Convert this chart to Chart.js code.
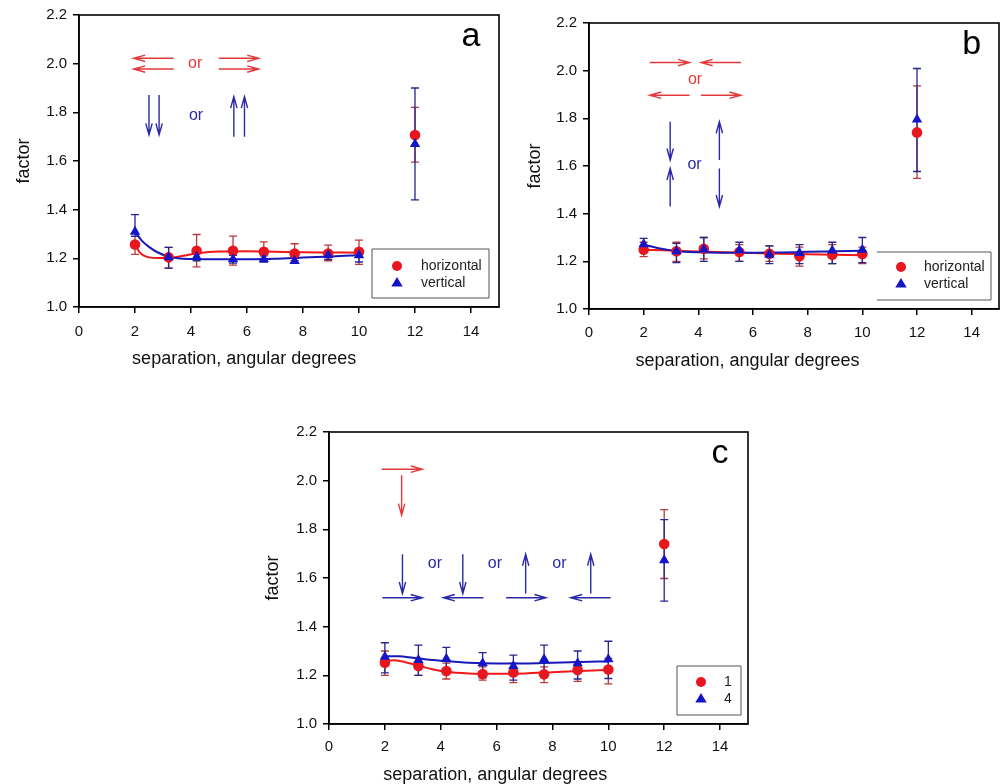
<!DOCTYPE html>
<html><head><meta charset="utf-8">
<script src="https://cdn.jsdelivr.net/npm/chart.js@4"></script>
<style>
body{margin:0;background:#fff;width:1005px;height:784px;position:relative;overflow:hidden}
canvas{position:absolute}
</style></head><body>
<canvas id="ca" width="505" height="380" style="left:0;top:0"></canvas>
<canvas id="cb" width="500" height="380" style="left:505px;top:0"></canvas>
<canvas id="cc" width="510" height="384" style="left:250px;top:410px"></canvas>
<script>
// ---------- shared axes ----------
const xSep = [2, 3.2, 4.2, 5.5, 6.6, 7.7, 8.9, 10, 12];
const xTicks = [0, 2, 4, 6, 8, 10, 12, 14];
const yTicks = [1.0, 1.2, 1.4, 1.6, 1.8, 2.0, 2.2];
const xTitle = 'separation, angular degrees';
const yTitle = 'factor';

// ---------- panel a ----------
const aNames = ['horizontal', 'vertical'];
const aHorVal = [1.257, 1.204, 1.231, 1.231, 1.227, 1.220, 1.220, 1.227, 1.707];
const aHorLo  = [1.216, 1.160, 1.165, 1.172, 1.190, 1.190, 1.190, 1.175, 1.595];
const aHorHi  = [1.290, 1.245, 1.298, 1.291, 1.268, 1.260, 1.254, 1.275, 1.820];
const aVerVal = [1.309, 1.204, 1.207, 1.196, 1.196, 1.189, 1.213, 1.213, 1.670];
const aVerLo  = [1.290, 1.160, 1.190, 1.180, 1.185, 1.180, 1.195, 1.185, 1.440];
const aVerHi  = [1.380, 1.245, 1.222, 1.212, 1.210, 1.200, 1.228, 1.232, 1.900];
const aHorCurveX = [2, 2.15, 2.3, 2.5, 2.8, 3.3, 3.8, 4.3, 5, 6, 7, 8, 9, 10];
const aHorCurveY = [1.257, 1.228, 1.212, 1.204, 1.201, 1.202, 1.212, 1.222, 1.228, 1.229, 1.227, 1.225, 1.224, 1.223];
const aVerCurveX = [2, 2.25, 2.5, 2.8, 3.2, 3.6, 4, 5, 6, 7, 8, 9, 10];
const aVerCurveY = [1.309, 1.272, 1.247, 1.225, 1.207, 1.199, 1.197, 1.196, 1.196, 1.198, 1.203, 1.208, 1.213];
const aRedArrows = [[3.38, 2.022, 1.95, 2.022], [3.38, 1.978, 1.95, 1.978], [4.99, 2.022, 6.42, 2.022], [4.99, 1.978, 6.42, 1.978]];
const aBlueArrows = [[2.50, 1.871, 2.50, 1.707], [2.86, 1.871, 2.86, 1.707], [5.53, 1.700, 5.53, 1.865], [5.91, 1.700, 5.91, 1.865]];
const aRedTexts = [[4.15, 2.0, 'or']];
const aBlueTexts = [[4.18, 1.785, 'or']];

// ---------- panel b ----------
const bNames = ['horizontal', 'vertical'];
const bHorVal = [1.249, 1.242, 1.253, 1.239, 1.232, 1.221, 1.228, 1.231, 1.741];
const bHorLo  = [1.220, 1.200, 1.210, 1.200, 1.200, 1.180, 1.190, 1.190, 1.548];
const bHorHi  = [1.280, 1.280, 1.300, 1.270, 1.265, 1.260, 1.270, 1.260, 1.936];
const bVerVal = [1.272, 1.242, 1.250, 1.246, 1.228, 1.235, 1.245, 1.249, 1.795];
const bVerLo  = [1.245, 1.195, 1.200, 1.200, 1.190, 1.190, 1.190, 1.195, 1.577];
const bVerHi  = [1.296, 1.275, 1.300, 1.280, 1.265, 1.270, 1.280, 1.300, 2.009];
const bHorCurveX = [2, 3, 4, 5, 6, 7, 8, 9, 10];
const bHorCurveY = [1.249, 1.245, 1.241, 1.238, 1.235, 1.232, 1.230, 1.228, 1.226];
const bVerCurveX = [2, 2.5, 3, 3.5, 4, 5, 6, 7, 8, 9, 10];
const bVerCurveY = [1.270, 1.256, 1.246, 1.240, 1.238, 1.236, 1.236, 1.237, 1.240, 1.242, 1.244];
const bRedArrows = [[2.22, 2.034, 3.68, 2.034], [5.56, 2.034, 4.10, 2.034], [3.68, 1.897, 2.22, 1.897], [4.10, 1.897, 5.56, 1.897]];
const bBlueArrows = [[2.97, 1.786, 2.97, 1.625], [2.97, 1.430, 2.97, 1.590], [4.77, 1.625, 4.77, 1.786], [4.77, 1.590, 4.77, 1.430]];
const bRedTexts = [[3.88, 1.964, 'or']];
const bBlueTexts = [[3.86, 1.607, 'or']];

// ---------- panel c ----------
const cNames = ['1', '4'];
const cHorVal = [1.252, 1.238, 1.218, 1.205, 1.212, 1.204, 1.222, 1.224, 1.740];
const cHorLo  = [1.200, 1.200, 1.185, 1.180, 1.170, 1.170, 1.175, 1.165, 1.598];
const cHorHi  = [1.300, 1.270, 1.250, 1.235, 1.250, 1.235, 1.255, 1.270, 1.881];
const cVerVal = [1.276, 1.263, 1.268, 1.250, 1.238, 1.266, 1.250, 1.266, 1.673];
const cVerLo  = [1.210, 1.200, 1.220, 1.190, 1.180, 1.210, 1.185, 1.187, 1.505];
const cVerHi  = [1.334, 1.324, 1.315, 1.293, 1.283, 1.324, 1.300, 1.340, 1.840];
const cHorCurveX = [2, 2.3, 2.7, 3.2, 3.7, 4.2, 5, 6, 7, 8, 9, 10];
const cHorCurveY = [1.258, 1.262, 1.255, 1.240, 1.225, 1.215, 1.208, 1.206, 1.208, 1.213, 1.218, 1.222];
const cVerCurveX = [2, 2.5, 3, 3.5, 4, 5, 6, 7, 8, 9, 10];
const cVerCurveY = [1.278, 1.278, 1.272, 1.265, 1.260, 1.252, 1.249, 1.249, 1.252, 1.255, 1.257];
const cRedArrows = [[1.885, 2.047, 3.34, 2.047], [2.60, 2.022, 2.60, 1.858]];
const cBlueArrows = [
  [1.91, 1.519, 3.34, 1.519], [2.63, 1.698, 2.63, 1.536],
  [5.53, 1.519, 4.09, 1.519], [4.79, 1.698, 4.79, 1.536],
  [6.34, 1.519, 7.77, 1.519], [7.04, 1.536, 7.04, 1.698],
  [10.08, 1.519, 8.65, 1.519], [9.37, 1.536, 9.37, 1.698]];
const cRedTexts = [];
const cBlueTexts = [[3.79, 1.66, 'or'], [5.94, 1.66, 'or'], [8.25, 1.66, 'or']];

// ---------- styles ----------
const FONT = "'Liberation Sans', Arial, sans-serif";
const RED = '#e8161e', BLUE = '#1414c8';
const RED_LINE = '#f01818', BLUE_LINE = '#1818b8';
const ERR_RED = '#b83a3a', ERR_BLUE = '#262690';
const ARR_RED = '#e23a3a', ARR_BLUE = '#2a2aa8';

const extraMap = {};

function arrow(ctx, x1, y1, x2, y2, hl) {
  const ang = Math.atan2(y2 - y1, x2 - x1), a = 0.27;
  ctx.beginPath();
  ctx.moveTo(x1, y1); ctx.lineTo(x2, y2);
  ctx.moveTo(x2 - hl * Math.cos(ang - a), y2 - hl * Math.sin(ang - a));
  ctx.lineTo(x2, y2);
  ctx.lineTo(x2 - hl * Math.cos(ang + a), y2 - hl * Math.sin(ang + a));
  ctx.stroke();
}

function drawTri(ctx, x, y, r) {
  ctx.beginPath();
  ctx.moveTo(x, y - r);
  ctx.lineTo(x - r * 0.95, y + r * 0.6);
  ctx.lineTo(x + r * 0.95, y + r * 0.6);
  ctx.closePath(); ctx.fill();
}

const extras = {
  id: 'extras',
  beforeDatasetsDraw(chart) {
    const cfg = extraMap[chart.canvas.id];
    const { ctx } = chart, x = chart.scales.x, y = chart.scales.y;
    ctx.save();
    [[cfg.redLo, cfg.redHi, ERR_RED], [cfg.blueLo, cfg.blueHi, ERR_BLUE]].forEach(([lo, hi, col]) => {
      ctx.strokeStyle = col; ctx.lineWidth = 1.3;
      xSep.forEach((xv, i) => {
        const px = x.getPixelForValue(xv), p1 = y.getPixelForValue(lo[i]), p2 = y.getPixelForValue(hi[i]);
        ctx.beginPath();
        ctx.moveTo(px, p1); ctx.lineTo(px, p2);
        ctx.moveTo(px - 4, p1); ctx.lineTo(px + 4, p1);
        ctx.moveTo(px - 4, p2); ctx.lineTo(px + 4, p2);
        ctx.stroke();
      });
    });
    ctx.restore();
  },
  afterDatasetsDraw(chart) {
    const cfg = extraMap[chart.canvas.id];
    const { ctx, chartArea: ca } = chart, x = chart.scales.x, y = chart.scales.y;
    ctx.save();
    // frame
    ctx.strokeStyle = '#000'; ctx.lineWidth = 1.6;
    ctx.strokeRect(ca.left, ca.top, ca.right - ca.left, ca.bottom - ca.top);
    // arrows
    ctx.lineWidth = 1.4;
    ctx.strokeStyle = ARR_RED;
    cfg.redArrows.forEach(a => arrow(ctx, x.getPixelForValue(a[0]), y.getPixelForValue(a[1]), x.getPixelForValue(a[2]), y.getPixelForValue(a[3]), 12));
    ctx.strokeStyle = ARR_BLUE;
    cfg.blueArrows.forEach(a => arrow(ctx, x.getPixelForValue(a[0]), y.getPixelForValue(a[1]), x.getPixelForValue(a[2]), y.getPixelForValue(a[3]), 12));
    // texts
    ctx.font = '16px ' + FONT; ctx.textAlign = 'center'; ctx.textBaseline = 'middle';
    ctx.fillStyle = ARR_RED;
    cfg.redTexts.forEach(t => ctx.fillText(t[2], x.getPixelForValue(t[0]), y.getPixelForValue(t[1])));
    ctx.fillStyle = ARR_BLUE;
    cfg.blueTexts.forEach(t => ctx.fillText(t[2], x.getPixelForValue(t[0]), y.getPixelForValue(t[1])));
    // panel letter
    ctx.fillStyle = '#000'; ctx.font = '34px ' + FONT;
    ctx.fillText(cfg.letter, x.getPixelForValue(14.0), y.getPixelForValue(2.11));
    // x-axis title (offset toward the left as in the original)
    ctx.fillStyle = '#111'; ctx.font = '18px ' + FONT;
    ctx.fillText(xTitle, x.getPixelForValue(cfg.xTitleAt), ca.bottom + cfg.xTitleDy);
    // legend
    const L = cfg.leg;
    const bx = ca.right - L.r - L.w, by = ca.bottom - L.b - L.h;
    ctx.strokeStyle = '#555'; ctx.lineWidth = 1;
    ctx.beginPath();
    if (L.noLeft) {
      ctx.moveTo(bx, by); ctx.lineTo(bx + L.w, by); ctx.lineTo(bx + L.w, by + L.h); ctx.lineTo(bx, by + L.h);
    } else {
      ctx.rect(bx, by, L.w, L.h);
    }
    ctx.stroke();
    ctx.fillStyle = RED;
    ctx.beginPath(); ctx.arc(bx + L.mx, by + L.r1, 5, 0, Math.PI * 2); ctx.fill();
    ctx.fillStyle = BLUE;
    drawTri(ctx, bx + L.mx, by + L.r2, 6);
    ctx.fillStyle = '#222'; ctx.font = '14px ' + FONT; ctx.textAlign = 'left';
    ctx.fillText(cfg.names[0], bx + L.tx, by + L.r1);
    ctx.fillText(cfg.names[1], bx + L.tx, by + L.r2);
    ctx.restore();
  }
};

function pts(xs, ys) { return xs.map((v, i) => ({ x: v, y: ys[i] })); }

function panel(id, cfg) {
  extraMap[id] = cfg;
  const tickFont = { family: FONT, size: 15 };
  const titleFont = { family: FONT, size: 18 };
  new Chart(document.getElementById(id), {
    type: 'scatter',
    data: {
      datasets: [
        { data: pts(xSep, cfg.blueVal), pointStyle: 'triangle', pointRadius: 6, backgroundColor: BLUE, borderColor: BLUE, borderWidth: 0, showLine: false, order: 1 },
        { data: pts(xSep, cfg.redVal), pointStyle: 'circle', pointRadius: 5.3, backgroundColor: RED, borderColor: RED, borderWidth: 0, showLine: false, order: 2 },
        { data: pts(cfg.blueCurveX, cfg.blueCurveY), showLine: true, pointRadius: 0, borderColor: BLUE_LINE, borderWidth: 2, tension: 0.4, cubicInterpolationMode: 'monotone', order: 3 },
        { data: pts(cfg.redCurveX, cfg.redCurveY), showLine: true, pointRadius: 0, borderColor: RED_LINE, borderWidth: 2, tension: 0.4, cubicInterpolationMode: 'monotone', order: 4 }
      ]
    },
    options: {
      responsive: false, animation: false, events: [],
      layout: { padding: cfg.pad },
      plugins: { legend: { display: false }, tooltip: { enabled: false } },
      scales: {
        x: {
          type: 'linear', min: 0, max: 15,
          afterBuildTicks: s => { s.ticks = xTicks.map(v => ({ value: v })); },
          afterFit: s => { s.height = cfg.xh; },
          ticks: { font: tickFont, color: '#111', padding: cfg.xtpad, maxRotation: 0, callback: v => String(v) },
          grid: { drawOnChartArea: false, drawTicks: true, tickLength: 6, color: '#000', lineWidth: 1.5 },
          border: { display: true, color: '#000', width: 1.6 },
          title: { display: false }
        },
        y: {
          type: 'linear', min: 1.0, max: 2.2,
          afterBuildTicks: s => { s.ticks = yTicks.map(v => ({ value: v })); },
          afterFit: s => { s.width = cfg.yw; },
          ticks: { font: tickFont, color: '#111', padding: 6, callback: v => Number(v).toFixed(1) },
          grid: { drawOnChartArea: false, drawTicks: true, tickLength: 6, color: '#000', lineWidth: 1.5 },
          border: { display: true, color: '#000', width: 1.6 },
          title: { display: true, text: yTitle, font: titleFont, color: '#111', padding: { top: cfg.ytp, bottom: 0 } }
        }
      }
    },
    plugins: [extras]
  });
}

panel('ca', {
  letter: 'a', names: aNames,
  redVal: aHorVal, redLo: aHorLo, redHi: aHorHi, blueVal: aVerVal, blueLo: aVerLo, blueHi: aVerHi,
  redCurveX: aHorCurveX, redCurveY: aHorCurveY, blueCurveX: aVerCurveX, blueCurveY: aVerCurveY,
  redArrows: aRedArrows, blueArrows: aBlueArrows, redTexts: aRedTexts, blueTexts: aBlueTexts,
  pad: { left: 0, top: 15, right: 6, bottom: 0 }, yw: 79, xh: 73, xtpad: 10, ytp: 13,
  xTitleAt: 5.9, xTitleDy: 52,
  leg: { w: 117, h: 49, r: 10, b: 9, mx: 25, tx: 49, r1: 17, r2: 34, noLeft: false }
});
panel('cb', {
  letter: 'b', names: bNames,
  redVal: bHorVal, redLo: bHorLo, redHi: bHorHi, blueVal: bVerVal, blueLo: bVerLo, blueHi: bVerHi,
  redCurveX: bHorCurveX, redCurveY: bHorCurveY, blueCurveX: bVerCurveX, blueCurveY: bVerCurveY,
  redArrows: bRedArrows, blueArrows: bBlueArrows, redTexts: bRedTexts, blueTexts: bBlueTexts,
  pad: { left: 0, top: 23, right: 5, bottom: 0 }, yw: 84, xh: 71, xtpad: 9, ytp: 19,
  xTitleAt: 5.8, xTitleDy: 52,
  leg: { w: 114, h: 48, r: 8, b: 9, mx: 24, tx: 47, r1: 15, r2: 32, noLeft: true }
});
panel('cc', {
  letter: 'c', names: cNames,
  redVal: cHorVal, redLo: cHorLo, redHi: cHorHi, blueVal: cVerVal, blueLo: cVerLo, blueHi: cVerHi,
  redCurveX: cHorCurveX, redCurveY: cHorCurveY, blueCurveX: cVerCurveX, blueCurveY: cVerCurveY,
  redArrows: cRedArrows, blueArrows: cBlueArrows, redTexts: cRedTexts, blueTexts: cBlueTexts,
  pad: { left: 0, top: 22, right: 12, bottom: 0 }, yw: 79, xh: 70, xtpad: 8, ytp: 12,
  xTitleAt: 5.95, xTitleDy: 51,
  leg: { w: 64, h: 49, r: 7, b: 9, mx: 24, tx: 47, r1: 16, r2: 33, noLeft: false }
});
</script>
</body></html>
